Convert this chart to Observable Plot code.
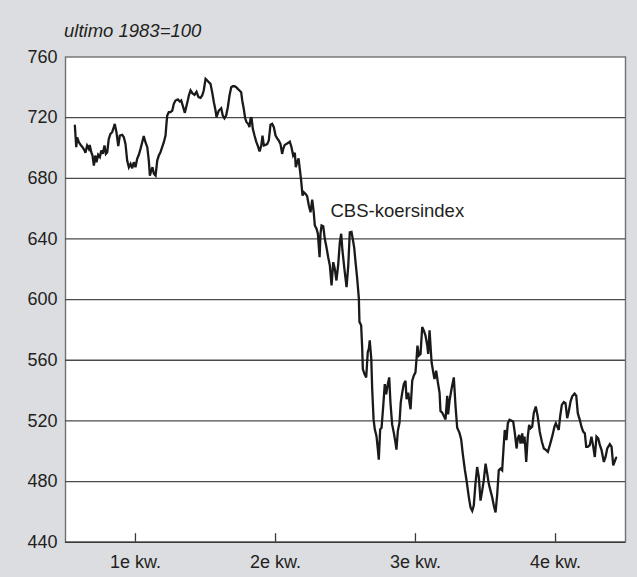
<!DOCTYPE html>
<html>
<head>
<meta charset="utf-8">
<script src="https://cdn.jsdelivr.net/npm/d3@7"></script>
<script src="https://cdn.jsdelivr.net/npm/@observablehq/plot@0.6"></script>
<style>
  html, body { margin: 0; padding: 0; }
  body { width: 637px; height: 577px; background: #dcdde0; position: relative; overflow: hidden;
         font-family: "Liberation Sans", Arial, Helvetica, sans-serif; }
  #sub { position: absolute; left: 64px; top: 22px; font-size: 18.5px; font-style: italic; color: #231f20; line-height: 1; }
  #chart { position: absolute; left: 0; top: 0; }
</style>
</head>
<body>
<div id="chart"></div>
<div id="sub">ultimo 1983=100</div>
<script>
// Day of year (1990-like calendar, 0..365)
const days = [6.1,7.0,7.6,8.7,10.2,11.5,12.4,13.0,14.1,15.2,15.8,16.8,17.6,18.5,19.4,20.2,21.3,22.4,23.3,24.3,
25.4,26.3,27.2,28.2,29.3,30.4,31.5,32.1,33.2,34.4,35.4,37.0,38.0,39.1,40.2,41.3,42.4,43.5,44.5,45.6,
46.7,47.8,48.9,50.0,51.0,52.1,53.3,54.3,55.0,55.9,56.7,57.6,58.7,59.8,60.8,61.9,63.0,64.1,65.2,65.8,
66.3,67.3,68.4,69.6,70.6,71.7,73.2,74.5,75.4,76.7,77.8,78.9,79.7,80.4,81.5,82.8,84.1,85.4,86.7,88.0,
89.1,90.1,91.3,92.4,93.4,94.5,95.6,96.7,97.8,98.4,99.9,101.5,102.5,103.6,104.7,105.8,106.9,108.0,109.0,110.2,
111.3,112.3,113.4,114.5,115.2,116.2,117.1,118.0,119.1,119.9,120.6,121.2,122.1,123.2,124.3,125.3,126.5,127.6,128.4,129.3,
130.4,131.5,132.5,133.6,134.7,135.8,136.9,138.0,139.0,140.1,141.2,141.9,142.9,144.0,145.2,146.2,147.3,148.4,149.5,150.1,
151.0,151.9,152.7,153.6,154.5,155.3,156.4,157.5,158.6,159.7,160.8,161.8,162.5,163.6,164.5,165.6,166.2,166.9,168.0,169.0,
170.1,171.2,172.3,173.4,174.5,175.5,176.6,177.7,178.8,179.7,180.5,181.9,183.2,184.3,185.3,186.4,187.3,188.2,189.0,190.1,
191.2,191.6,192.7,193.4,193.8,194.9,196.0,197.0,197.7,198.3,199.3,199.9,200.8,201.6,202.7,203.6,204.2,205.1,206.0,207.1,
208.1,209.0,210.1,211.0,211.8,212.9,214.0,215.1,215.7,216.6,217.7,218.5,219.5,220.5,221.6,222.3,223.4,224.2,224.9,226.0,
227.0,228.1,228.8,229.4,230.3,231.4,232.5,233.5,234.6,235.8,236.4,237.3,237.9,238.6,239.7,240.5,241.6,242.7,243.8,244.4,
245.5,246.6,247.7,248.8,249.4,250.3,251.6,253.1,254.2,255.3,256.8,257.9,259.0,260.3,261.4,262.9,264.0,265.1,266.1,267.2,
268.3,269.4,270.5,271.6,272.6,273.8,274.9,275.9,277.0,278.1,279.2,280.3,281.4,282.4,283.5,284.6,285.7,286.3,287.4,288.3,
289.4,290.5,291.8,292.9,294.0,294.8,295.7,296.6,297.7,298.3,299.2,300.3,301.3,302.2,303.1,304.2,305.2,306.5,307.8,309.1,
310.5,311.8,313.3,314.4,315.7,317.2,318.7,319.6,320.5,321.5,322.4,323.5,324.8,325.9,327.0,328.0,329.2,330.3,331.8,332.9,
333.9,335.2,336.3,337.4,338.5,339.4,340.4,341.7,342.8,344.0,345.0,346.1,347.2,348.3,349.4,350.9,352.0,353.1,354.8,355.9,
357.0,357.8,358.9];
// CBS-koersindex (ultimo 1983 = 100)
const koers = [714.8,700.5,707.0,703.8,701.6,699.9,698.3,696.8,701.6,699.4,702.0,697.2,695.0,688.4,695.0,690.6,695.5,694.0,698.3,696.1,
701.6,696.1,697.2,706.0,709.3,710.4,713.7,715.9,710.4,701.2,708.2,708.7,707.1,702.7,691.7,687.3,689.5,686.6,690.6,687.3,
692.8,695.5,699.4,703.8,707.8,703.8,700.5,691.7,681.8,685.1,687.3,683.0,681.8,691.7,695.0,697.2,700.5,703.8,708.2,715.9,
721.4,723.6,723.6,724.7,729.1,731.3,732.0,730.6,731.3,726.9,723.2,728.0,731.3,734.6,738.0,736.0,735.0,737.0,733.5,733.0,
734.6,737.9,745.6,744.5,743.4,742.3,736.8,730.2,724.7,720.3,724.7,726.2,721.4,719.6,721.4,726.9,734.6,740.1,740.7,740.7,
740.1,739.0,737.9,736.8,731.3,725.8,719.6,717.0,715.9,713.7,719.2,720.3,712.6,708.2,704.2,701.6,697.7,701.6,708.2,701.6,
702.0,702.7,704.9,715.3,715.9,713.7,708.2,706.4,704.9,702.7,696.1,699.4,702.0,702.7,703.4,704.2,700.5,695.0,696.8,687.3,
690.6,693.2,686.2,678.5,668.6,670.8,669.8,668.2,662.1,657.6,666.0,657.6,648.9,646.7,643.4,628.0,643.4,648.9,648.4,640.1,
634.5,628.0,622.5,609.3,624.7,620.3,612.6,622.5,637.8,643.4,632.4,619.2,608.2,622.5,644.4,644.7,639.6,634.0,625.2,614.1,
600.8,585.3,583.1,567.5,554.2,550.9,548.7,565.3,567.5,573.1,560.9,540.9,521.0,514.4,509.9,501.1,494.4,514.4,515.5,529.9,
544.3,537.6,544.3,548.7,532.1,517.7,512.1,505.5,501.1,513.3,518.8,532.1,538.7,544.3,546.5,534.3,538.7,532.1,527.7,546.5,
549.8,552.0,560.9,569.7,563.1,564.2,581.9,579.7,576.4,569.7,564.2,579.7,569.7,558.7,552.0,547.6,553.1,545.4,538.7,526.6,
525.5,523.2,521.0,536.5,524.3,533.2,541.0,548.7,529.9,515.5,512.1,507.7,497.7,487.8,480.7,469.6,462.9,460.7,464.1,478.5,
489.6,482.9,467.4,474.0,480.7,491.8,485.1,478.5,474.0,469.6,464.1,459.6,471.8,487.4,488.5,487.4,505.1,514.0,507.3,518.4,
520.7,520.2,519.6,511.8,501.8,508.5,510.7,505.1,511.8,505.1,509.6,492.9,509.6,517.3,515.1,516.2,525.1,529.5,522.9,512.9,
506.2,501.8,500.7,499.6,504.0,509.6,516.2,518.4,516.2,514.0,522.9,530.6,532.4,531.7,521.8,526.2,532.9,536.2,538.0,536.6,
525.1,520.7,516.2,512.9,511.8,502.9,502.9,504.0,509.6,502.9,496.2,509.6,508.5,504.0,500.7,492.9,496.2,501.8,504.7,503.0,
490.7,492.9,495.8];

const yTicks = [440, 480, 520, 560, 600, 640, 680, 720, 760];
const gridValues = [480, 520, 560, 600, 640, 680, 720];
const xTicks = [45.6, 136.9, 228.1, 319.4];          // middle of each quarter
const xTickLabels = ["1e kw.", "2e kw.", "3e kw.", "4e kw."];
const seriesLabel = [{day: 172.7, value: 654.3, text: "CBS-koersindex"}];

const data = days.map((d, i) => ({day: d, value: koers[i]}));

const chart = Plot.plot({
  width: 637,
  height: 577,
  marginLeft: 65,
  marginRight: 12,
  marginTop: 56.5,
  marginBottom: 35.3,
  style: {background: "transparent", fontFamily: "'Liberation Sans', Arial, Helvetica, sans-serif", fontSize: "18px", color: "#231f20"},
  x: {domain: [0, 365]},
  y: {domain: [440, 760]},
  marks: [
    Plot.frame({fill: "white", stroke: "#707070", strokeWidth: 1.4}),
    Plot.ruleY(gridValues, {stroke: "#4a4a4a", strokeWidth: 1.3}),
    Plot.ruleY([440], {stroke: "#3a3a3a", strokeWidth: 1.6}),
    Plot.ruleX(xTicks, {y1: 440, y2: 445.6, stroke: "#3a3a3a", strokeWidth: 1.3}),
    Plot.line(data, {x: "day", y: "value", stroke: "#1a1a1a", strokeWidth: 2.3, strokeLinejoin: "miter", strokeMiterlimit: 3}),
    Plot.text(seriesLabel, {x: "day", y: "value", text: "text", textAnchor: "start", lineAnchor: "bottom", fontSize: 18.5, fill: "#231f20"}),
    Plot.axisY({ticks: yTicks, tickSize: 0, tickPadding: 8, label: null, fontSize: 18}),
    Plot.axisX({ticks: xTicks, tickFormat: d => xTickLabels[xTicks.indexOf(d)], tickSize: 0, tickPadding: 13, label: null, fontSize: 18})
  ]
});
document.getElementById("chart").appendChild(chart);
</script>
</body>
</html>
